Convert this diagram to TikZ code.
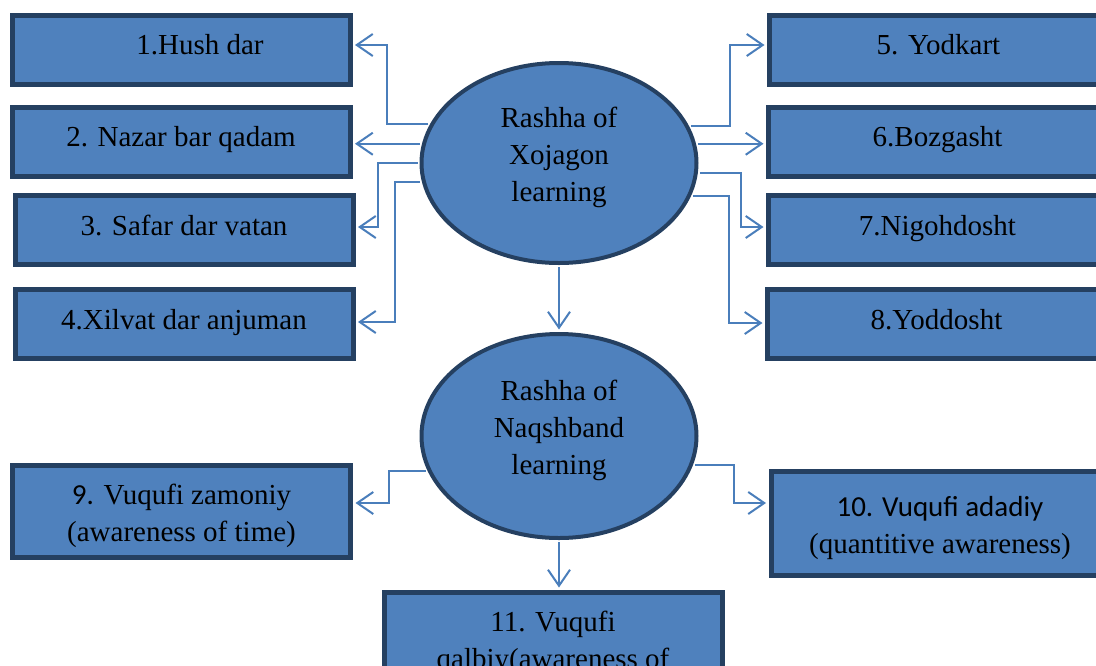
\documentclass[tikz,border=0pt]{standalone}
\usepackage{fontspec}
\setmainfont{Liberation Serif}
\newfontfamily\carlito{Carlito}
\usetikzlibrary{arrows.meta,shapes.geometric}
\definecolor{boxfill}{HTML}{4F81BD}
\definecolor{boxline}{HTML}{254061}
\definecolor{connline}{HTML}{4A7EBB}
\newcommand\mytwo[2]{\raisebox{0pt}[20pt][35pt]{\begin{tabular}[t]{@{}c@{}}#1\\#2\end{tabular}}}
\newcommand\mythree[3]{\raisebox{0pt}[20pt][92pt]{\begin{tabular}[t]{@{}c@{}}#1\\#2\\#3\end{tabular}}}
\begin{document}
\begin{tikzpicture}[x=1pt,y=-1pt,
  txt/.style={font=\fontsize{29}{37}\selectfont, text=black},
  box/.style={txt, draw=boxline, fill=boxfill, line width=5pt, minimum width=338pt,
    minimum height=69pt, inner sep=0pt, align=center, text height=19pt, text depth=9pt},
  boxtwo/.style={txt, draw=boxline, fill=boxfill, line width=5pt, minimum width=338pt,
    minimum height=92pt, inner sep=0pt, align=center},
  oval/.style={txt, ellipse, draw=boxline, fill=boxfill, line width=4pt, minimum width=275pt,
    inner sep=0pt, align=center},
  conn/.style={draw=connline, line width=2pt, line join=miter,
    -{Straight Barb[length=16pt,width=22pt,line width=2pt]}, shorten <=2pt, shorten >=2.5pt}]
\useasboundingbox (0,0) rectangle (1096,665);

% ellipses
\node[oval, minimum height=200pt] (e1) at (559,163) {\mythree{Rashha of}{Xojagon}{learning}};
\node[oval, minimum height=204pt] (e2) at (559,436) {\mythree{Rashha of}{Naqshband}{learning}};

% left boxes
\node[box] (b1) at (181,49.5) {\hspace*{38pt}1.Hush dar};
\node[box] (b2) at (181,141.5) {2. Nazar bar qadam};
\node[box] (b3) at (184,230) {3. Safar dar vatan};
\node[box] (b4) at (184,324) {4.Xilvat dar anjuman};
% right boxes
\node[box] (b5) at (938.5,49.5) {5. Yodkart};
\node[box] (b6) at (937.5,141.5) {6.Bozgasht};
\node[box] (b7) at (937.5,230) {7.Nigohdosht};
\node[box] (b8) at (936.5,324) {8.Yoddosht};
% bottom boxes
\node[boxtwo] (b9) at (181.5,511.5) {\mytwo{{\carlito 9.} Vuqufi zamoniy}{(awareness of time)}};
\node[boxtwo, minimum height=104pt] (b10) at (940,523.5) {\mytwo{{\carlito 10. Vuqufi adadiy}}{(quantitive awareness)}};
\node[boxtwo] (b11) at (553,638.5) {\mytwo{11. Vuqufi}{qalbiy(awareness of}};

% connectors from upper ellipse
\draw[conn] (e1.163.4) -| (387,45) -- (b1.east |- 0,45);
\draw[conn] (e1.172) -- (b2.east |- e1.172);
\draw[conn] (e1.180.8) -| (378,227) -- (b3.east |- 0,227);
\draw[conn] (e1.188.9) -| (395,322) -- (b4.east |- 0,322);
\draw[conn] (e1.16.6) -| (730,45) -- (b5.west |- 0,45);
\draw[conn] (e1.8) -- (b6.west |- e1.8);
\draw[conn] (e1.-4.6) -| (741,227) -- (b7.west |- 0,227);
\draw[conn] (e1.-14.3) -| (729,323) -- (b8.west |- 0,323);
\draw[conn] (e1.south) -- (e2.north);
% connectors from lower ellipse
\draw[conn] (e2.195.6) -| (389,503) -- (b9.east |- 0,503);
\draw[conn] (e2.-12.4) -| (734,503) -- (b10.west |- 0,503);
\draw[conn] (e2.south) -- (e2.south |- b11.north);
\end{tikzpicture}
\end{document}
